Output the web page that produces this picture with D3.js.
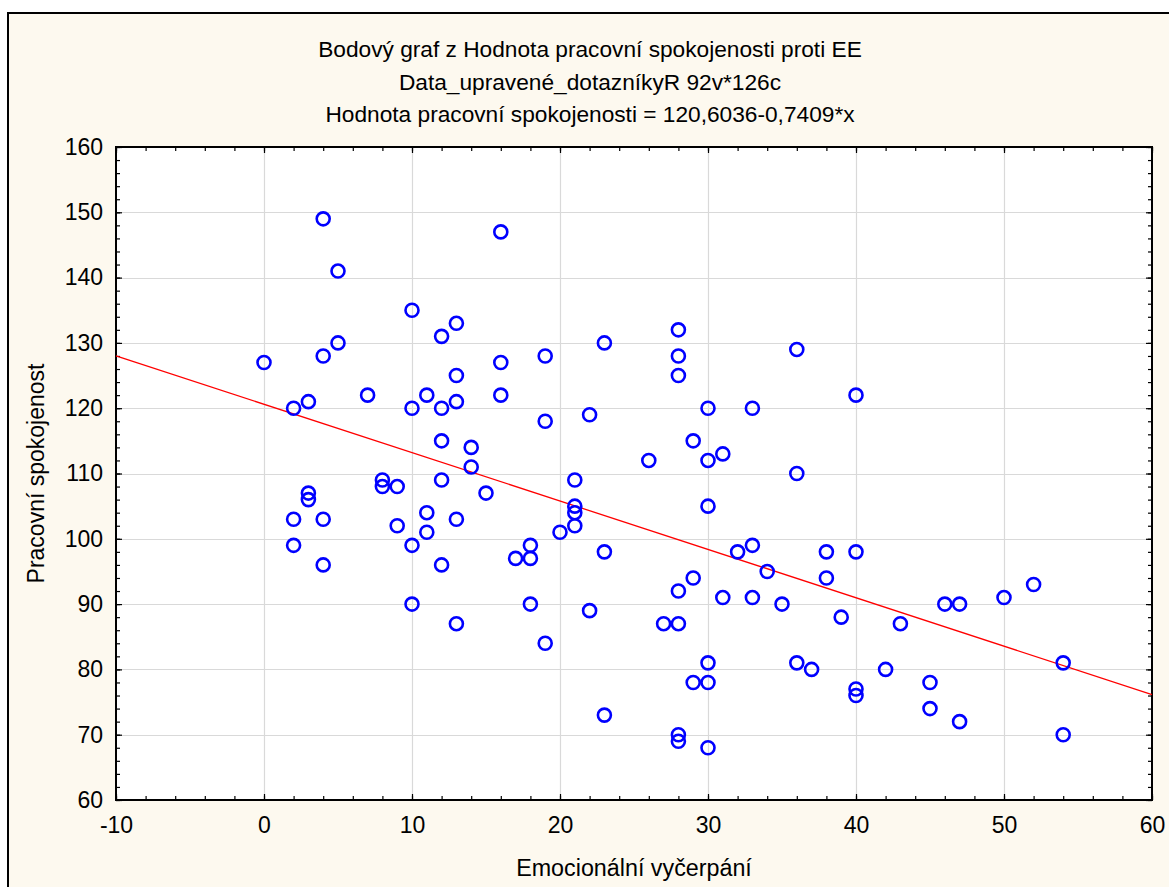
<!DOCTYPE html>
<html>
<head>
<meta charset="utf-8">
<script src="https://cdn.jsdelivr.net/npm/d3@7"></script>
<style>
  html, body { margin: 0; padding: 0; background: #ffffff; }
  svg { display: block; }
</style>
</head>
<body>
<svg id="chart" width="1169" height="887"></svg>
<script>
// Emocionální vyčerpání (EE) vs. Hodnota pracovní spokojenosti
const eeValues = [
  0, 2, 2, 2, 3, 3, 3, 4, 4, 4, 4, 5, 5, 7, 8, 8, 9, 9,
  10, 10, 10, 10, 11, 11, 11, 12, 12, 12, 12, 12,
  13, 13, 13, 13, 13, 14, 14, 15, 16, 16, 16, 17,
  18, 18, 18, 19, 19, 19, 20, 21, 21, 21, 21, 22, 22,
  23, 23, 23, 26, 27, 28, 28, 28, 28, 28, 28, 28,
  29, 29, 29, 30, 30, 30, 30, 30, 30, 31, 31, 32,
  33, 33, 33, 34, 35, 36, 36, 36, 37, 38, 38, 39,
  40, 40, 40, 40, 42, 43, 45, 45, 46, 47, 47, 50, 52, 54, 54
];
const satisfactionValues = [
  127, 120, 103, 99, 121, 107, 106, 149, 128, 103, 96, 141, 130, 122, 109, 108, 108, 102,
  135, 120, 99, 90, 122, 104, 101, 131, 120, 115, 109, 96,
  133, 125, 121, 103, 87, 114, 111, 107, 147, 127, 122, 97,
  99, 97, 90, 128, 118, 84, 101, 109, 105, 104, 102, 119, 89,
  130, 98, 73, 112, 87, 132, 128, 125, 92, 87, 70, 69,
  115, 94, 78, 120, 112, 105, 81, 78, 68, 113, 91, 98,
  120, 99, 91, 95, 90, 129, 110, 81, 80, 98, 94, 88,
  122, 98, 77, 76, 80, 87, 78, 74, 90, 90, 72, 91, 93, 81, 70
];

// Linear fit: y = a + b*x
const fitIntercept = 120.6036;
const fitSlope = -0.7409;

const xDomain = [-10, 60];
const yDomain = [60, 160];
const xTickValues = [-10, 0, 10, 20, 30, 40, 50, 60];
const yTickValues = [60, 70, 80, 90, 100, 110, 120, 130, 140, 150, 160];

const titleLines = [
  "Bodový graf z Hodnota pracovní spokojenosti proti EE",
  "Data_upravené_dotazníkyR 92v*126c",
  "Hodnota pracovní spokojenosti = 120,6036-0,7409*x"
];
const xAxisTitle = "Emocionální vyčerpání";
const yAxisTitle = "Pracovní spokojenost";

const points = eeValues.map((x, i) => ({ x, y: satisfactionValues[i] }));

const svg = d3.select("#chart");
const font = "'Liberation Sans', Arial, sans-serif";
const plainNumber = d => String(d);

// Outer panel (extends past the window on the right and bottom)
svg.append("rect")
  .attr("x", 8).attr("y", 13)
  .attr("width", 1180).attr("height", 900)
  .attr("fill", "#fdf9ef")
  .attr("stroke", "#000").attr("stroke-width", 2);

const plot = { left: 116, top: 147, right: 1152, bottom: 800 };

const x = d3.scaleLinear().domain(xDomain).range([plot.left, plot.right]);
const y = d3.scaleLinear().domain(yDomain).range([plot.bottom, plot.top]);

// Plot background
svg.append("rect")
  .attr("x", plot.left).attr("y", plot.top)
  .attr("width", plot.right - plot.left).attr("height", plot.bottom - plot.top)
  .attr("fill", "#ffffff");

// Grid lines
const grid = svg.append("g").attr("stroke", "#d9d9d9").attr("stroke-width", 1.2);
grid.selectAll(".gx").data(xTickValues.slice(1, -1)).join("line")
  .attr("x1", d => Math.round(x(d)) + 0.5).attr("x2", d => Math.round(x(d)) + 0.5)
  .attr("y1", plot.top).attr("y2", plot.bottom);
grid.selectAll(".gy").data(yTickValues.slice(1, -1)).join("line")
  .attr("y1", d => Math.round(y(d)) + 0.5).attr("y2", d => Math.round(y(d)) + 0.5)
  .attr("x1", plot.left).attr("x2", plot.right);

// Inward ticks on all four sides: major every 10, minor every 2
const xMinor = d3.range(xDomain[0], xDomain[1] + 0.001, 2);
const yMinor = d3.range(yDomain[0], yDomain[1] + 0.001, 2);

function addAxis(axisGen, transform, values) {
  const g = svg.append("g").attr("transform", transform);
  g.call(axisGen.tickValues(values).tickFormat("").tickSizeOuter(0));
  g.select(".domain").remove();
  g.selectAll(".tick line").attr("stroke", "#000").attr("stroke-width", 1.2);
  return g;
}
addAxis(d3.axisBottom(x).tickSize(-4), `translate(0,${plot.bottom})`, xMinor);
addAxis(d3.axisBottom(x).tickSize(-6), `translate(0,${plot.bottom})`, xTickValues);
addAxis(d3.axisTop(x).tickSize(-4), `translate(0,${plot.top})`, xMinor);
addAxis(d3.axisTop(x).tickSize(-6), `translate(0,${plot.top})`, xTickValues);
addAxis(d3.axisLeft(y).tickSize(-4), `translate(${plot.left},0)`, yMinor);
addAxis(d3.axisLeft(y).tickSize(-6), `translate(${plot.left},0)`, yTickValues);
addAxis(d3.axisRight(y).tickSize(-4), `translate(${plot.right},0)`, yMinor);
addAxis(d3.axisRight(y).tickSize(-6), `translate(${plot.right},0)`, yTickValues);

// Plot frame
svg.append("rect")
  .attr("x", plot.left).attr("y", plot.top)
  .attr("width", plot.right - plot.left).attr("height", plot.bottom - plot.top)
  .attr("fill", "none").attr("stroke", "#000").attr("stroke-width", 2);

// Tick labels
const xLabels = svg.append("g")
  .attr("transform", `translate(0,${plot.bottom})`)
  .call(d3.axisBottom(x).tickValues(xTickValues).tickSize(0).tickPadding(17).tickFormat(plainNumber));
xLabels.select(".domain").remove();
xLabels.selectAll("text").attr("font-family", font).attr("font-size", 23).attr("fill", "#000");

const yLabels = svg.append("g")
  .attr("transform", `translate(${plot.left},0)`)
  .call(d3.axisLeft(y).tickValues(yTickValues).tickSize(0).tickPadding(13).tickFormat(plainNumber));
yLabels.select(".domain").remove();
yLabels.selectAll("text").attr("font-family", font).attr("font-size", 23).attr("fill", "#000");

// Regression line
const fitLine = d3.line().x(d => x(d)).y(d => y(fitIntercept + fitSlope * d));
svg.append("path")
  .datum(xDomain)
  .attr("d", fitLine)
  .attr("fill", "none")
  .attr("stroke", "#ff0000")
  .attr("stroke-width", 1.3);

// Scatter points
svg.append("g").selectAll("circle").data(points).join("circle")
  .attr("cx", d => x(d.x))
  .attr("cy", d => y(d.y))
  .attr("r", 6.5)
  .attr("fill", "none")
  .attr("stroke", "#0000ff")
  .attr("stroke-width", 2.6);

// Titles
svg.append("g").selectAll("text").data(titleLines).join("text")
  .attr("x", 590)
  .attr("y", (d, i) => 57 + i * 32.5)
  .attr("text-anchor", "middle")
  .attr("font-family", font)
  .attr("font-size", 22.7)
  .attr("fill", "#000")
  .text(d => d);

svg.append("text")
  .attr("x", (plot.left + plot.right) / 2)
  .attr("y", 876)
  .attr("text-anchor", "middle")
  .attr("font-family", font)
  .attr("font-size", 23.3)
  .attr("fill", "#000")
  .text(xAxisTitle);

svg.append("text")
  .attr("transform", `translate(44,${(plot.top + plot.bottom) / 2}) rotate(-90)`)
  .attr("text-anchor", "middle")
  .attr("font-family", font)
  .attr("font-size", 23)
  .attr("fill", "#000")
  .text(yAxisTitle);
</script>
</body>
</html>
